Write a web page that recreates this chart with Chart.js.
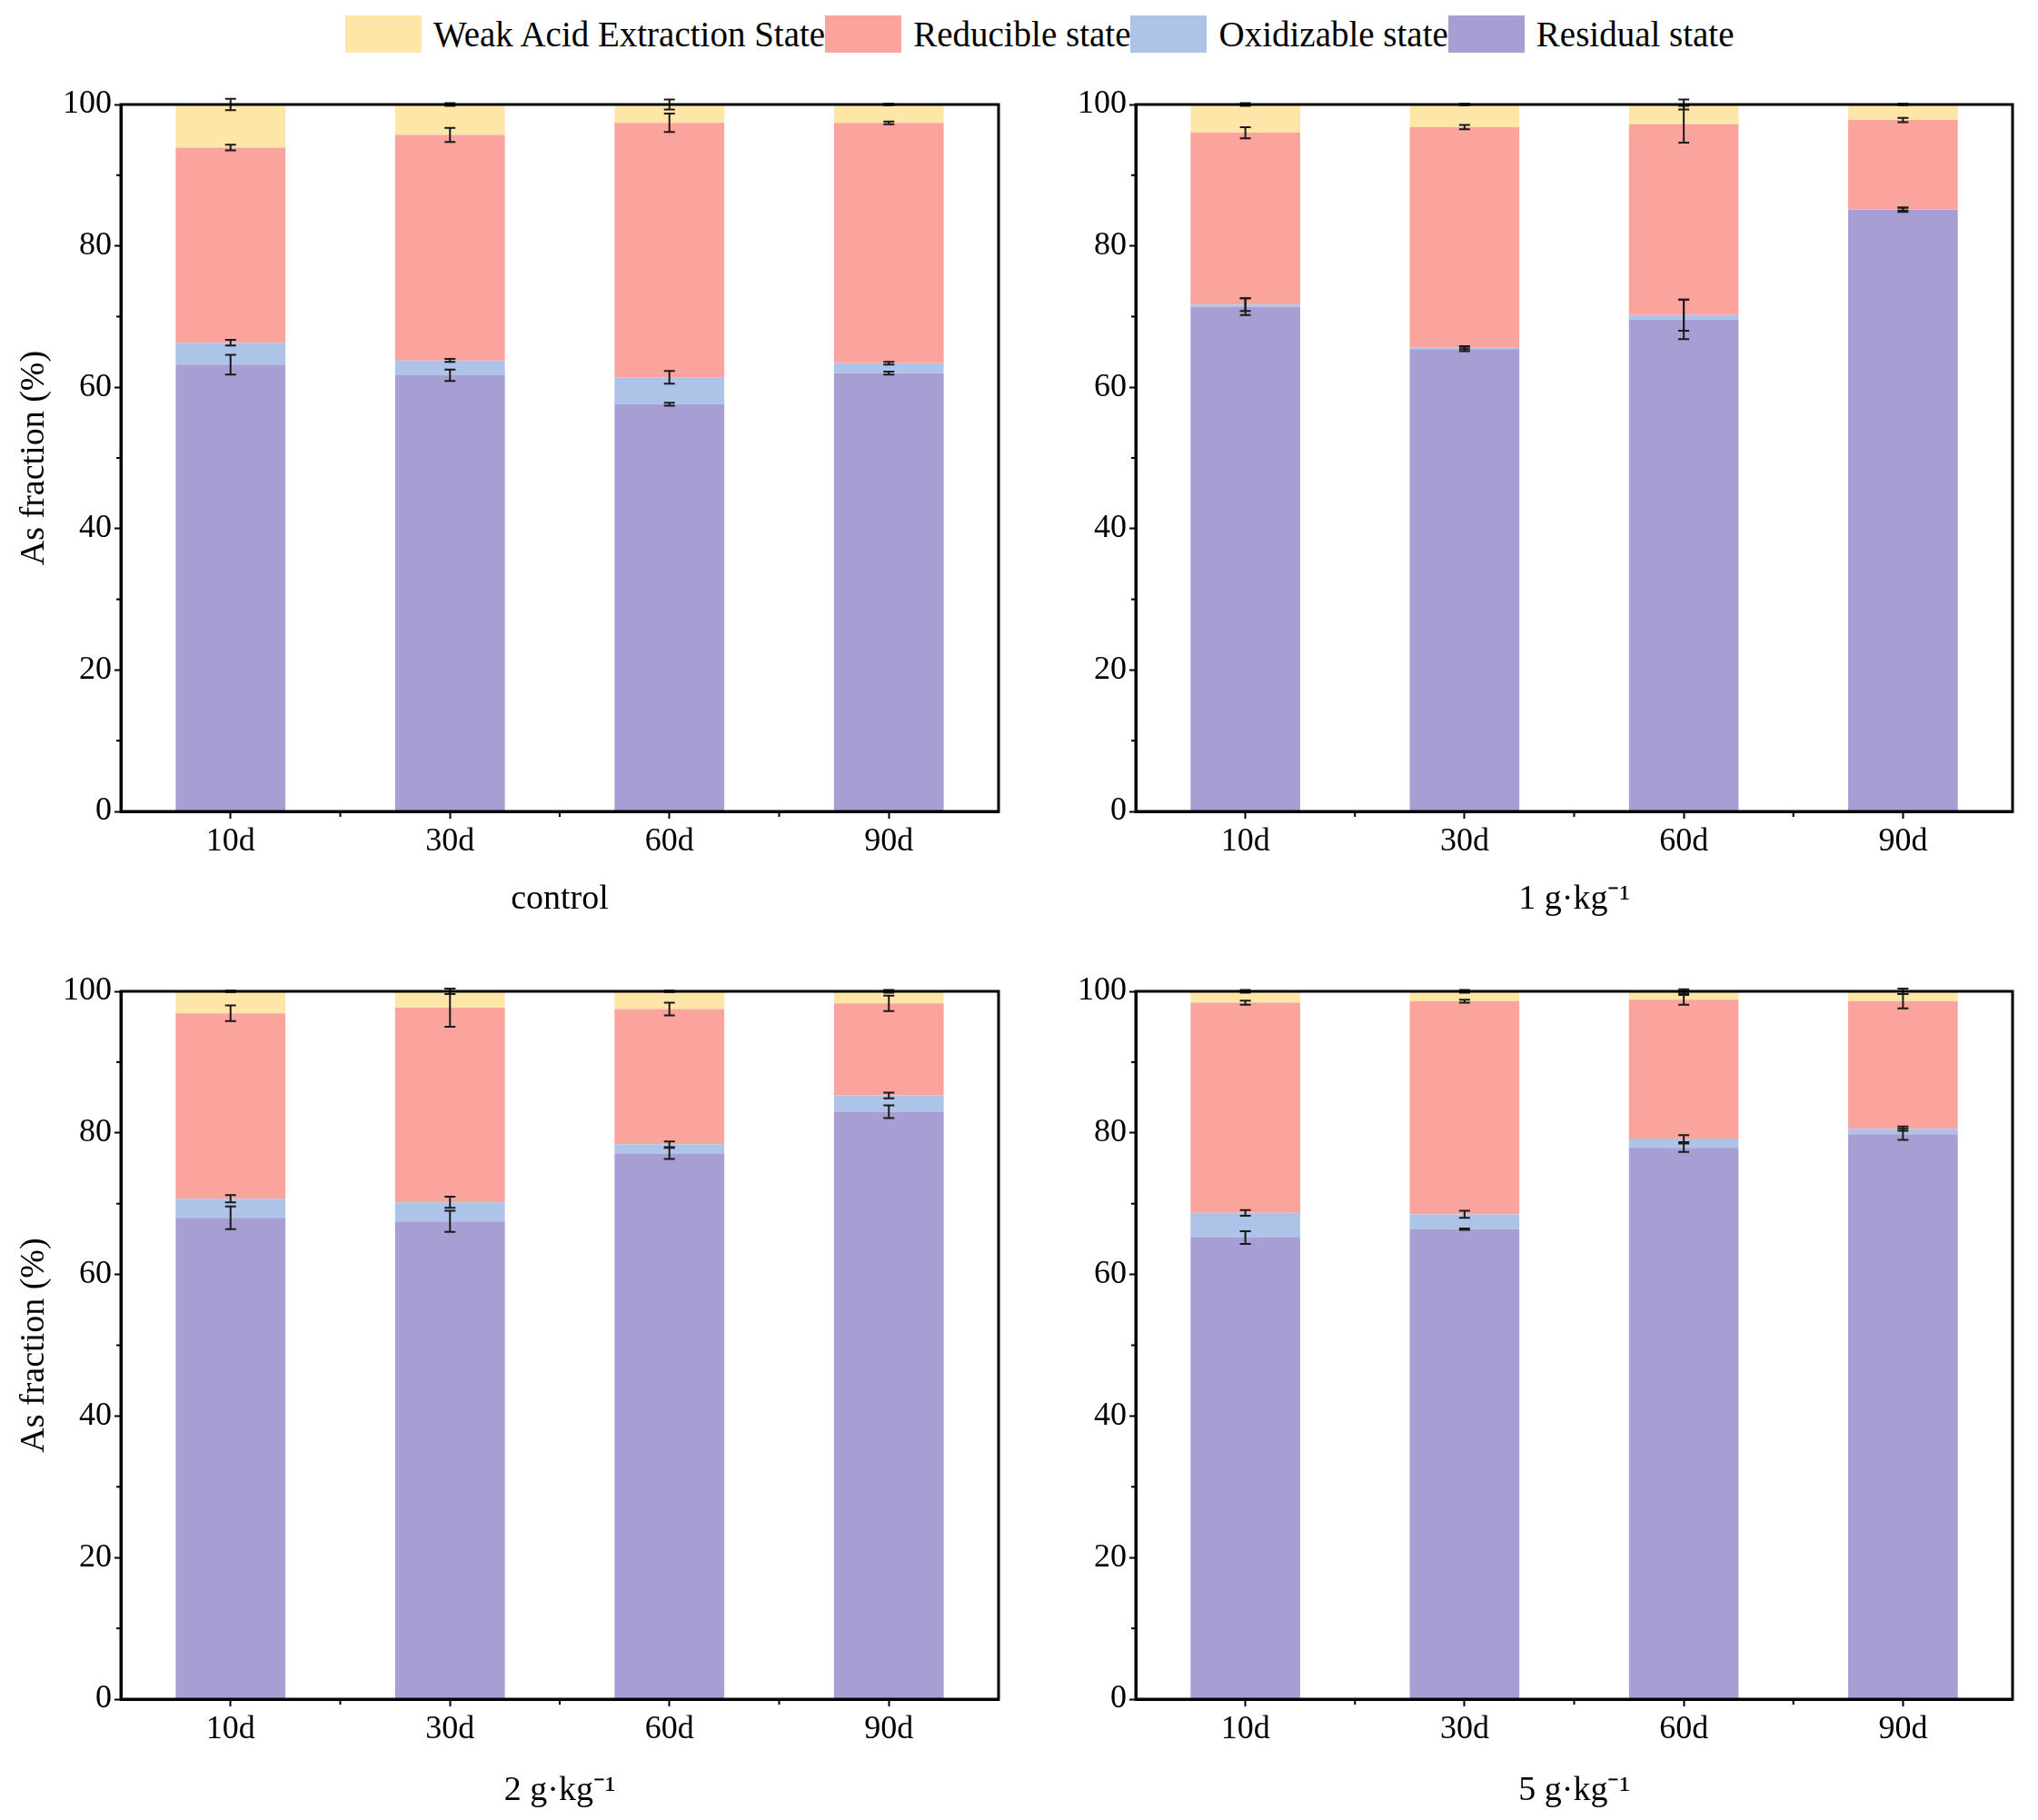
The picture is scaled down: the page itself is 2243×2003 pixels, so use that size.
<!DOCTYPE html>
<html>
<head>
<meta charset="utf-8">
<title>As fraction</title>
<script src="https://cdn.jsdelivr.net/npm/chart.js@4.4.0/dist/chart.umd.min.js"></script>
<style>
    body {
        margin: 0;
        width: 2243px;
        height: 2003px;
        background: #fff;
        position: relative;
        overflow: hidden;
        font-family: 'Liberation Serif', 'Times New Roman', serif;
    }
    .panel { position: absolute; }
    #legend {
        position: absolute;
        left: 380px;
        top: 17px;
        height: 41px;
        display: flex;
        align-items: center;
        font-size: 39px;
        color: #000;
        white-space: nowrap;
    }
    .item { display: flex; align-items: center; }
    .box { width: 84px; height: 41px; margin-right: 13px; }
</style>
</head>
<body>
<div id="legend"></div>
<canvas id="c0" class="panel" width="1120" height="980" style="left:0;top:60px"></canvas>
<canvas id="c1" class="panel" width="1123" height="980" style="left:1120px;top:60px"></canvas>
<canvas id="c2" class="panel" width="1120" height="963" style="left:0;top:1040px"></canvas>
<canvas id="c3" class="panel" width="1123" height="963" style="left:1120px;top:1040px"></canvas>
<script>
// ── datos (control, 1, 2, 5 g·kg⁻¹) ──
const days = ['10d', '30d', '60d', '90d'];
const panelTitles = ['control', '1 g·kg⁻¹', '2 g·kg⁻¹', '5 g·kg⁻¹'];
const seriesNames = ['Weak Acid Extraction State', 'Reducible state', 'Oxidizable state', 'Residual state'];
const seriesColors = ['#fde6a8', '#fba39d', '#aec3e8', '#a79fd3'];

// % de cada fracción, un sub-array por panel
const residual = [
    [63.2, 61.7, 57.6, 62.0],
    [71.4, 65.4, 69.6, 85.1],
    [68.0, 67.5, 77.1, 83.0],
    [65.2, 66.4, 77.9, 79.8]
];
const oxidizable = [
    [3.1, 2.1, 3.8, 1.4],
    [0.3, 0.2, 0.6, 0.1],
    [2.7, 2.7, 1.3, 2.3],
    [3.5, 2.1, 1.3, 0.8]
];
const reducible = [
    [27.6, 31.9, 36.0, 34.0],
    [24.3, 31.2, 27.0, 12.6],
    [26.2, 27.5, 19.1, 13.0],
    [29.7, 30.1, 19.6, 18.0]
];
const weakAcid = [
    [6.1, 4.3, 2.6, 2.6],
    [4.0, 3.2, 2.8, 2.2],
    [3.1, 2.3, 2.5, 1.7],
    [1.6, 1.4, 1.2, 1.4]
];

// barras de error (±)
const residualErr = [
    [1.4, 0.8, 0.2, 0.2],
    [1.2, 0.3, 2.8, 0.3],
    [1.6, 1.5, 0.8, 0.9],
    [0.9, 0.1, 0.6, 0.8]
];
const oxidizableErr = [
    [0.4, 0.2, 0.9, 0.2],
    [0.9, 0.2, 2.2, 0.2],
    [0.5, 0.8, 0.4, 0.4],
    [0.4, 0.5, 0.5, 0.3]
];
const reducibleErr = [
    [0.4, 1.0, 1.3, 0.2],
    [0.8, 0.3, 2.6, 0.3],
    [1.1, 2.7, 0.9, 1.1],
    [0.3, 0.2, 0.7, 1.0]
];
const weakAcidErr = [
    [0.8, 0.2, 0.7, 0.1],
    [0.2, 0.1, 0.7, 0.1],
    [0.1, 0.4, 0.1, 0.2],
    [0.2, 0.2, 0.3, 0.4]
];

const yTicks = [0, 20, 40, 60, 80, 100];

// ── leyenda común ──
const legend = document.getElementById('legend');
seriesNames.forEach((name, i) => {
    const item = document.createElement('div');
    item.className = 'item';
    const box = document.createElement('div');
    box.className = 'box';
    box.style.background = seriesColors[i];
    const label = document.createElement('span');
    label.textContent = name;
    item.appendChild(box);
    item.appendChild(label);
    legend.appendChild(item);
});

// Marco, ticks menores y ticks entre categorías
const frameTicks = {
    id: 'frameTicks',
    afterDraw(chart) {
        const { ctx, chartArea: a, scales: { x, y } } = chart;
        ctx.save();
        ctx.strokeStyle = '#000';
        ctx.lineWidth = 3;
        ctx.strokeRect(a.left, a.top, a.right - a.left, a.bottom - a.top);
        ctx.lineWidth = 2;
        for (let v = 10; v < 100; v += 20) {
            const py = y.getPixelForValue(v);
            ctx.beginPath();
            ctx.moveTo(a.left - 5, py);
            ctx.lineTo(a.left, py);
            ctx.stroke();
        }
        for (let i = 0; i < days.length - 1; i++) {
            const px = (x.getPixelForValue(i) + x.getPixelForValue(i + 1)) / 2;
            ctx.beginPath();
            ctx.moveTo(px, a.bottom);
            ctx.lineTo(px, a.bottom + 6);
            ctx.stroke();
        }
        ctx.restore();
    }
};

// Barras de error en la cima acumulada de cada fracción
const errBars = {
    id: 'errBars',
    afterDatasetsDraw(chart) {
        const { ctx, scales: { y } } = chart;
        ctx.save();
        ctx.strokeStyle = '#1a1a1a';
        ctx.lineWidth = 2;
        chart.data.datasets.forEach((ds, k) => {
            const meta = chart.getDatasetMeta(k);
            ds.data.forEach((v, j) => {
                let cum = 0;
                for (let m = 0; m <= k; m++) cum += chart.data.datasets[m].data[j];
                const e = ds.errors[j];
                const px = meta.data[j].x;
                const y1 = y.getPixelForValue(cum + e);
                const y2 = y.getPixelForValue(cum - e);
                ctx.beginPath();
                ctx.moveTo(px, y1); ctx.lineTo(px, y2);
                ctx.moveTo(px - 6, y1); ctx.lineTo(px + 6, y1);
                ctx.moveTo(px - 6, y2); ctx.lineTo(px + 6, y2);
                ctx.stroke();
            });
        });
        ctx.restore();
    }
};

const font = 'Liberation Serif';

function crearPanel(id, p, opts) {
    const ctx = document.getElementById(id).getContext('2d');
    const data = [residual[p], oxidizable[p], reducible[p], weakAcid[p]];
    const errs = [residualErr[p], oxidizableErr[p], reducibleErr[p], weakAcidErr[p]];
    const colors = [seriesColors[3], seriesColors[2], seriesColors[1], seriesColors[0]];
    const names = [seriesNames[3], seriesNames[2], seriesNames[1], seriesNames[0]];

    return new Chart(ctx, {
        type: 'bar',
        data: {
            labels: days,
            datasets: data.map((d, k) => ({
                label: names[k],
                data: d,
                errors: errs[k],
                backgroundColor: colors[k],
                borderWidth: 0,
                barPercentage: 0.5,
                categoryPercentage: 1
            }))
        },
        options: {
            responsive: false,
            animation: false,
            devicePixelRatio: 1,
            layout: { padding: { top: opts.top, right: opts.right, left: 0, bottom: 0 } },
            plugins: {
                legend: { display: false },
                tooltip: { enabled: false }
            },
            scales: {
                x: {
                    stacked: true,
                    afterFit: s => { s.height = opts.xh; },
                    grid: { drawOnChartArea: false, offset: false, tickLength: 8, tickWidth: 2, tickColor: '#000' },
                    border: { color: '#000', width: 3 },
                    ticks: { color: '#000', padding: 4, font: { family: font, size: 36 } },
                    title: {
                        display: true,
                        text: panelTitles[p],
                        color: '#000',
                        font: { family: font, size: 38 },
                        padding: { top: 0, bottom: opts.titlePad }
                    }
                },
                y: {
                    stacked: true,
                    min: 0,
                    max: 100,
                    afterFit: s => { s.width = opts.yw; },
                    afterBuildTicks: s => { s.ticks = yTicks.map(v => ({ value: v })); },
                    grid: { drawOnChartArea: false, tickLength: 7, tickWidth: 2, tickColor: '#000' },
                    border: { color: '#000', width: 3 },
                    ticks: { color: '#000', padding: 3, font: { family: font, size: 36 } },
                    title: {
                        display: opts.yTitle,
                        text: 'As fraction (%)',
                        color: '#000',
                        font: { family: font, size: 38 },
                        padding: { top: 15, bottom: 0 }
                    }
                }
            }
        },
        plugins: [errBars, frameTicks]
    });
}

document.addEventListener('DOMContentLoaded', function () {
    crearPanel('c0', 0, { top: 55, right: 21, xh: 147, yw: 133, titlePad: 27, yTitle: true });
    crearPanel('c1', 1, { top: 55, right: 28, xh: 147, yw: 130, titlePad: 27, yTitle: false });
    crearPanel('c2', 2, { top: 51, right: 21, xh: 133, yw: 133, titlePad: 9, yTitle: true });
    crearPanel('c3', 3, { top: 51, right: 28, xh: 133, yw: 130, titlePad: 9, yTitle: false });
});
</script>
</body>
</html>
